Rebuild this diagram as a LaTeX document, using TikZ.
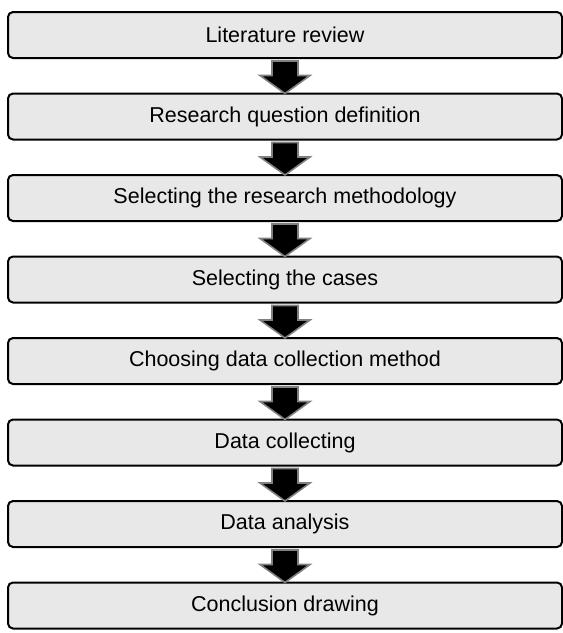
\documentclass[tikz,border=0pt]{standalone}
\usepackage{fontspec}
\setmainfont{Liberation Sans}
\usetikzlibrary{positioning, calc}
\definecolor{boxgrey}{RGB}{232, 232, 232}
\definecolor{arrowrim}{RGB}{128, 128, 128}

\begin{document}
\begin{tikzpicture}[
    stage/.style={draw, line width=2pt, rounded corners=5pt, fill=boxgrey, minimum width=554pt, minimum height=46pt, inner sep=0pt, outer sep=0pt, font=\fontsize{21.5}{24}\selectfont},
    blockarr/.style={fill=black, draw=arrowrim, line width=1.6pt, line join=miter}
]
    \useasboundingbox (0,0) rectangle (563pt,-633pt);
    \node[stage] (lit) at (285pt,-35pt) {Literature review};
    \node[stage, below=35.5pt of lit] (question) {Research question definition};
    \node[stage, below=35.5pt of question] (method) {Selecting the research methodology};
    \node[stage, below=35.5pt of method] (cases) {Selecting the cases};
    \node[stage, below=35.5pt of cases] (datamethod) {Choosing data collection method};
    \node[stage, below=35.5pt of datamethod] (collect) {Data collecting};
    \node[stage, below=35.5pt of collect] (analysis) {Data analysis};
    \node[stage, below=35.5pt of analysis] (conclusion) {Conclusion drawing};
    % block arrows between the stages
    \foreach \a/\b in {lit/question, question/method, method/cases, cases/datamethod, datamethod/collect, collect/analysis, analysis/conclusion}
        \filldraw[blockarr] ($(\a.south)+(-13pt,-3pt)$) -- ($(\a.south)+(13pt,-3pt)$) -- ($(\b.north)+(13pt,18pt)$) -- ($(\b.north)+(25pt,18pt)$) -- (\b.north) -- ($(\b.north)+(-25pt,18pt)$) -- ($(\b.north)+(-13pt,18pt)$) -- cycle;
\end{tikzpicture}
\end{document}
